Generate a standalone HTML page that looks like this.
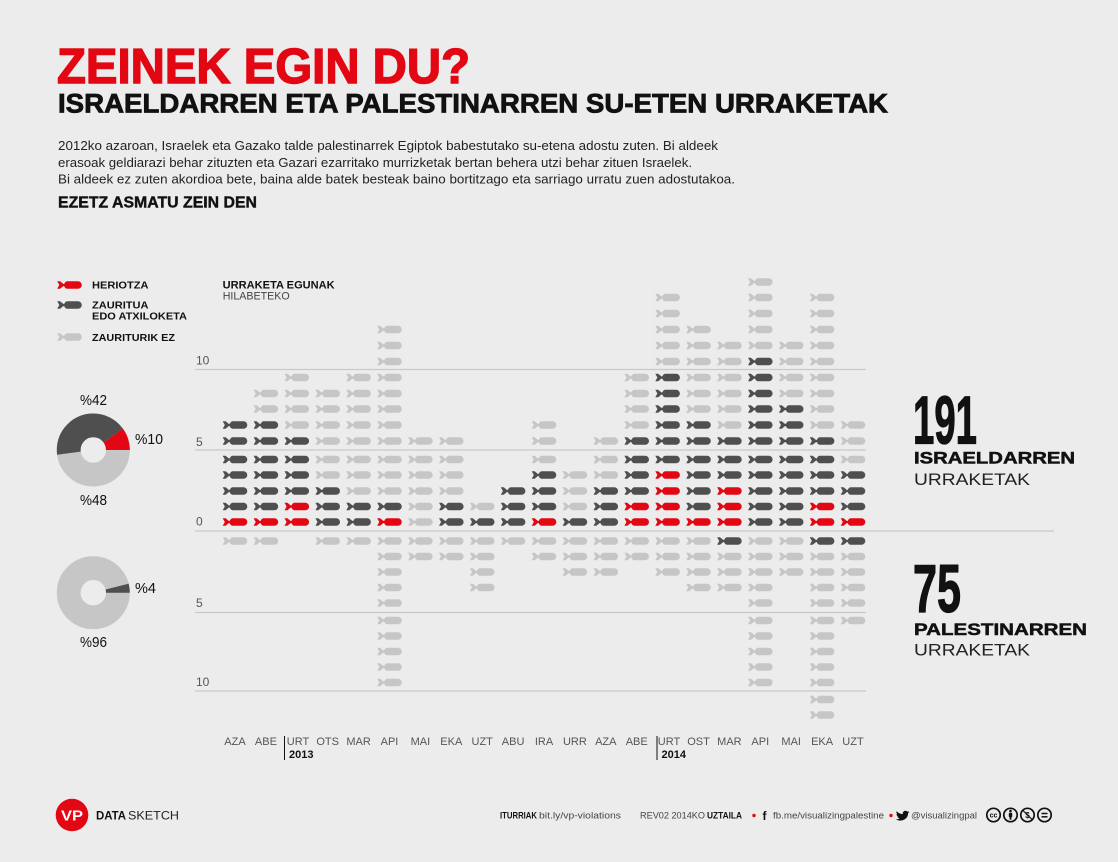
<!DOCTYPE html>
<html><head><meta charset="utf-8"><style>
html,body{margin:0;padding:0;background:#ececec;}
svg{display:block;font-family:"Liberation Sans",sans-serif;}
.r{fill:#e30613}.d{fill:#4f4f4f}.l{fill:#c6c6c6}
.m{font-size:11px;fill:#555;text-anchor:middle}
.ax{font-size:12px;fill:#555}
.g{stroke:#c9c9c9;stroke-width:1.3}
</style></head><body>
<svg width="1118" height="862" viewBox="0 0 1118 862" xmlns="http://www.w3.org/2000/svg">
<defs>
<path id="b" d="M-12.3 -3.8H-9.4L-6.2 -1.1H-5.2A3.8 3.8 0 0 1 -2.6 -3.8H8.5A3.8 3.8 0 0 1 8.5 3.8H-2.6A3.8 3.8 0 0 1 -5.2 1.1H-6.2L-9.4 3.8H-12.3L-10.2 0Z"/>
</defs>
<rect width="1118" height="862" fill="#ececec"/>

<!-- header -->
<text x="57" y="83" font-size="49" font-weight="bold" fill="#e30613" stroke="#e30613" stroke-width="1.4" textLength="413" lengthAdjust="spacingAndGlyphs">ZEINEK EGIN DU?</text>
<text x="58" y="112.5" font-size="27" font-weight="bold" fill="#111" stroke="#111" stroke-width="0.8" textLength="830" lengthAdjust="spacingAndGlyphs">ISRAELDARREN ETA PALESTINARREN SU-ETEN URRAKETAK</text>
<g font-size="13" fill="#222">
<text x="58" y="150" textLength="660" lengthAdjust="spacingAndGlyphs">2012ko azaroan, Israelek eta Gazako talde palestinarrek Egiptok babestutako su-etena adostu zuten. Bi aldeek</text>
<text x="58" y="167" textLength="634" lengthAdjust="spacingAndGlyphs">erasoak geldiarazi behar zituzten eta Gazari ezarritako murrizketak bertan behera utzi behar zituen Israelek.</text>
<text x="58" y="183.5" textLength="677" lengthAdjust="spacingAndGlyphs">Bi aldeek ez zuten akordioa bete, baina alde batek besteak baino bortitzago eta sarriago urratu zuen adostutakoa.</text>
</g>
<text x="58" y="207.5" font-size="15.5" font-weight="bold" fill="#111" stroke="#111" stroke-width="0.4" textLength="199" lengthAdjust="spacingAndGlyphs">EZETZ ASMATU ZEIN DEN</text>

<!-- legend -->
<use href="#b" x="69.5" y="285" class="r"/>
<use href="#b" x="69.5" y="305" class="d"/>
<use href="#b" x="69.5" y="337" class="l"/>
<g font-size="10.5" font-weight="bold" fill="#111">
<text x="92" y="288.5" textLength="56.5" lengthAdjust="spacingAndGlyphs">HERIOTZA</text>
<text x="92" y="308.3" textLength="56.5" lengthAdjust="spacingAndGlyphs">ZAURITUA</text>
<text x="92" y="319.5" textLength="95" lengthAdjust="spacingAndGlyphs">EDO ATXILOKETA</text>
<text x="92" y="340.8" textLength="83" lengthAdjust="spacingAndGlyphs">ZAURITURIK EZ</text>
</g>
<text x="222.7" y="288.3" font-size="11" font-weight="bold" fill="#111" textLength="112" lengthAdjust="spacingAndGlyphs">URRAKETA EGUNAK</text>
<text x="222.7" y="299.3" font-size="11" fill="#444" textLength="67" lengthAdjust="spacingAndGlyphs">HILABETEKO</text>

<!-- pies -->
<circle cx="93.3" cy="450" r="24.6" fill="none" stroke="#c6c6c6" stroke-width="23.8"/>
<g transform="translate(93.3 450) scale(1 -1)">
<circle r="24.6" fill="none" stroke="#e30613" stroke-width="23.8" stroke-dasharray="15.46 200"/>
<circle r="24.6" fill="none" stroke="#4f4f4f" stroke-width="23.8" stroke-dasharray="0 15.46 64.92 200"/>
</g>
<circle cx="93.3" cy="592.7" r="24.6" fill="none" stroke="#c6c6c6" stroke-width="23.8"/>
<g transform="translate(93.3 592.7) scale(1 -1)">
<circle r="24.6" fill="none" stroke="#4f4f4f" stroke-width="23.8" stroke-dasharray="6.18 200"/>
</g>
<g font-size="15" fill="#111">
<text x="80" y="405" textLength="27" lengthAdjust="spacingAndGlyphs">%42</text>
<text x="135" y="444" textLength="28" lengthAdjust="spacingAndGlyphs">%10</text>
<text x="80" y="505" textLength="27" lengthAdjust="spacingAndGlyphs">%48</text>
<text x="135" y="593" textLength="21" lengthAdjust="spacingAndGlyphs">%4</text>
<text x="80" y="647" textLength="27" lengthAdjust="spacingAndGlyphs">%96</text>
</g>

<!-- grid -->
<line class="g" x1="195" y1="369.5" x2="866" y2="369.5"/>
<line class="g" x1="195" y1="450" x2="866" y2="450"/>
<line class="g" x1="195" y1="531" x2="1054" y2="531"/>
<line class="g" x1="195" y1="612.5" x2="866" y2="612.5"/>
<line class="g" x1="195" y1="691" x2="866" y2="691"/>
<text class="ax" x="196" y="364.5">10</text>
<text class="ax" x="196" y="446">5</text>
<text class="ax" x="196" y="525.5">0</text>
<text class="ax" x="196" y="607">5</text>
<text class="ax" x="196" y="686">10</text>

<!-- columns -->
<g transform="translate(235 0)">
<use href="#b" y="522" class="r"/><use href="#b" y="506.5" class="d"/><use href="#b" y="491" class="d"/><use href="#b" y="475" class="d"/><use href="#b" y="459.5" class="d"/><use href="#b" y="441" class="d"/><use href="#b" y="425" class="d"/>
<use href="#b" y="541" class="l"/>
</g>
<g transform="translate(265.9 0)">
<use href="#b" y="522" class="r"/><use href="#b" y="506.5" class="d"/><use href="#b" y="491" class="d"/><use href="#b" y="475" class="d"/><use href="#b" y="459.5" class="d"/><use href="#b" y="441" class="d"/><use href="#b" y="425" class="d"/><use href="#b" y="409" class="l"/><use href="#b" y="393.5" class="l"/>
<use href="#b" y="541" class="l"/>
</g>
<g transform="translate(296.8 0)">
<use href="#b" y="522" class="r"/><use href="#b" y="506.5" class="r"/><use href="#b" y="491" class="d"/><use href="#b" y="475" class="d"/><use href="#b" y="459.5" class="d"/><use href="#b" y="441" class="d"/><use href="#b" y="425" class="l"/><use href="#b" y="409" class="l"/><use href="#b" y="393.5" class="l"/><use href="#b" y="377.5" class="l"/>
</g>
<g transform="translate(327.7 0)">
<use href="#b" y="522" class="d"/><use href="#b" y="506.5" class="d"/><use href="#b" y="491" class="d"/><use href="#b" y="475" class="l"/><use href="#b" y="459.5" class="l"/><use href="#b" y="441" class="l"/><use href="#b" y="425" class="l"/><use href="#b" y="409" class="l"/><use href="#b" y="393.5" class="l"/>
<use href="#b" y="541" class="l"/>
</g>
<g transform="translate(358.6 0)">
<use href="#b" y="522" class="d"/><use href="#b" y="506.5" class="d"/><use href="#b" y="491" class="l"/><use href="#b" y="475" class="l"/><use href="#b" y="459.5" class="l"/><use href="#b" y="441" class="l"/><use href="#b" y="425" class="l"/><use href="#b" y="409" class="l"/><use href="#b" y="393.5" class="l"/><use href="#b" y="377.5" class="l"/>
<use href="#b" y="541" class="l"/>
</g>
<g transform="translate(389.5 0)">
<use href="#b" y="522" class="r"/><use href="#b" y="506.5" class="d"/><use href="#b" y="491" class="l"/><use href="#b" y="475" class="l"/><use href="#b" y="459.5" class="l"/><use href="#b" y="441" class="l"/><use href="#b" y="425" class="l"/><use href="#b" y="409" class="l"/><use href="#b" y="393.5" class="l"/><use href="#b" y="377.5" class="l"/><use href="#b" y="361.5" class="l"/><use href="#b" y="345.5" class="l"/><use href="#b" y="329.5" class="l"/>
<use href="#b" y="541" class="l"/><use href="#b" y="556.5" class="l"/><use href="#b" y="572" class="l"/><use href="#b" y="587.5" class="l"/><use href="#b" y="603" class="l"/><use href="#b" y="620.5" class="l"/><use href="#b" y="636" class="l"/><use href="#b" y="651.5" class="l"/><use href="#b" y="667" class="l"/><use href="#b" y="682.5" class="l"/>
</g>
<g transform="translate(420.4 0)">
<use href="#b" y="522" class="l"/><use href="#b" y="506.5" class="l"/><use href="#b" y="491" class="l"/><use href="#b" y="475" class="l"/><use href="#b" y="459.5" class="l"/><use href="#b" y="441" class="l"/>
<use href="#b" y="541" class="l"/><use href="#b" y="556.5" class="l"/>
</g>
<g transform="translate(451.3 0)">
<use href="#b" y="522" class="d"/><use href="#b" y="506.5" class="d"/><use href="#b" y="491" class="l"/><use href="#b" y="475" class="l"/><use href="#b" y="459.5" class="l"/><use href="#b" y="441" class="l"/>
<use href="#b" y="541" class="l"/><use href="#b" y="556.5" class="l"/>
</g>
<g transform="translate(482.2 0)">
<use href="#b" y="522" class="d"/><use href="#b" y="506.5" class="l"/>
<use href="#b" y="541" class="l"/><use href="#b" y="556.5" class="l"/><use href="#b" y="572" class="l"/><use href="#b" y="587.5" class="l"/>
</g>
<g transform="translate(513.1 0)">
<use href="#b" y="522" class="d"/><use href="#b" y="506.5" class="d"/><use href="#b" y="491" class="d"/>
<use href="#b" y="541" class="l"/>
</g>
<g transform="translate(544 0)">
<use href="#b" y="522" class="r"/><use href="#b" y="506.5" class="d"/><use href="#b" y="491" class="d"/><use href="#b" y="475" class="d"/><use href="#b" y="459.5" class="l"/><use href="#b" y="441" class="l"/><use href="#b" y="425" class="l"/>
<use href="#b" y="541" class="l"/><use href="#b" y="556.5" class="l"/>
</g>
<g transform="translate(574.9 0)">
<use href="#b" y="522" class="d"/><use href="#b" y="506.5" class="l"/><use href="#b" y="491" class="l"/><use href="#b" y="475" class="l"/>
<use href="#b" y="541" class="l"/><use href="#b" y="556.5" class="l"/><use href="#b" y="572" class="l"/>
</g>
<g transform="translate(605.8 0)">
<use href="#b" y="522" class="d"/><use href="#b" y="506.5" class="d"/><use href="#b" y="491" class="d"/><use href="#b" y="475" class="l"/><use href="#b" y="459.5" class="l"/><use href="#b" y="441" class="l"/>
<use href="#b" y="541" class="l"/><use href="#b" y="556.5" class="l"/><use href="#b" y="572" class="l"/>
</g>
<g transform="translate(636.7 0)">
<use href="#b" y="522" class="r"/><use href="#b" y="506.5" class="r"/><use href="#b" y="491" class="d"/><use href="#b" y="475" class="d"/><use href="#b" y="459.5" class="d"/><use href="#b" y="441" class="d"/><use href="#b" y="425" class="l"/><use href="#b" y="409" class="l"/><use href="#b" y="393.5" class="l"/><use href="#b" y="377.5" class="l"/>
<use href="#b" y="541" class="l"/><use href="#b" y="556.5" class="l"/>
</g>
<g transform="translate(667.6 0)">
<use href="#b" y="522" class="r"/><use href="#b" y="506.5" class="r"/><use href="#b" y="491" class="r"/><use href="#b" y="475" class="r"/><use href="#b" y="459.5" class="d"/><use href="#b" y="441" class="d"/><use href="#b" y="425" class="d"/><use href="#b" y="409" class="d"/><use href="#b" y="393.5" class="d"/><use href="#b" y="377.5" class="d"/><use href="#b" y="361.5" class="l"/><use href="#b" y="345.5" class="l"/><use href="#b" y="329.5" class="l"/><use href="#b" y="313.5" class="l"/><use href="#b" y="297.5" class="l"/>
<use href="#b" y="541" class="l"/><use href="#b" y="556.5" class="l"/><use href="#b" y="572" class="l"/>
</g>
<g transform="translate(698.5 0)">
<use href="#b" y="522" class="r"/><use href="#b" y="506.5" class="d"/><use href="#b" y="491" class="d"/><use href="#b" y="475" class="d"/><use href="#b" y="459.5" class="d"/><use href="#b" y="441" class="d"/><use href="#b" y="425" class="d"/><use href="#b" y="409" class="l"/><use href="#b" y="393.5" class="l"/><use href="#b" y="377.5" class="l"/><use href="#b" y="361.5" class="l"/><use href="#b" y="345.5" class="l"/><use href="#b" y="329.5" class="l"/>
<use href="#b" y="541" class="l"/><use href="#b" y="556.5" class="l"/><use href="#b" y="572" class="l"/><use href="#b" y="587.5" class="l"/>
</g>
<g transform="translate(729.4 0)">
<use href="#b" y="522" class="r"/><use href="#b" y="506.5" class="r"/><use href="#b" y="491" class="r"/><use href="#b" y="475" class="d"/><use href="#b" y="459.5" class="d"/><use href="#b" y="441" class="d"/><use href="#b" y="425" class="l"/><use href="#b" y="409" class="l"/><use href="#b" y="393.5" class="l"/><use href="#b" y="377.5" class="l"/><use href="#b" y="361.5" class="l"/><use href="#b" y="345.5" class="l"/>
<use href="#b" y="541" class="d"/><use href="#b" y="556.5" class="l"/><use href="#b" y="572" class="l"/><use href="#b" y="587.5" class="l"/>
</g>
<g transform="translate(760.3 0)">
<use href="#b" y="522" class="d"/><use href="#b" y="506.5" class="d"/><use href="#b" y="491" class="d"/><use href="#b" y="475" class="d"/><use href="#b" y="459.5" class="d"/><use href="#b" y="441" class="d"/><use href="#b" y="425" class="d"/><use href="#b" y="409" class="d"/><use href="#b" y="393.5" class="d"/><use href="#b" y="377.5" class="d"/><use href="#b" y="361.5" class="d"/><use href="#b" y="345.5" class="l"/><use href="#b" y="329.5" class="l"/><use href="#b" y="313.5" class="l"/><use href="#b" y="297.5" class="l"/><use href="#b" y="282" class="l"/>
<use href="#b" y="541" class="l"/><use href="#b" y="556.5" class="l"/><use href="#b" y="572" class="l"/><use href="#b" y="587.5" class="l"/><use href="#b" y="603" class="l"/><use href="#b" y="620.5" class="l"/><use href="#b" y="636" class="l"/><use href="#b" y="651.5" class="l"/><use href="#b" y="667" class="l"/><use href="#b" y="682.5" class="l"/>
</g>
<g transform="translate(791.2 0)">
<use href="#b" y="522" class="d"/><use href="#b" y="506.5" class="d"/><use href="#b" y="491" class="d"/><use href="#b" y="475" class="d"/><use href="#b" y="459.5" class="d"/><use href="#b" y="441" class="d"/><use href="#b" y="425" class="d"/><use href="#b" y="409" class="d"/><use href="#b" y="393.5" class="l"/><use href="#b" y="377.5" class="l"/><use href="#b" y="361.5" class="l"/><use href="#b" y="345.5" class="l"/>
<use href="#b" y="541" class="l"/><use href="#b" y="556.5" class="l"/><use href="#b" y="572" class="l"/>
</g>
<g transform="translate(822.1 0)">
<use href="#b" y="522" class="r"/><use href="#b" y="506.5" class="r"/><use href="#b" y="491" class="d"/><use href="#b" y="475" class="d"/><use href="#b" y="459.5" class="d"/><use href="#b" y="441" class="d"/><use href="#b" y="425" class="l"/><use href="#b" y="409" class="l"/><use href="#b" y="393.5" class="l"/><use href="#b" y="377.5" class="l"/><use href="#b" y="361.5" class="l"/><use href="#b" y="345.5" class="l"/><use href="#b" y="329.5" class="l"/><use href="#b" y="313.5" class="l"/><use href="#b" y="297.5" class="l"/>
<use href="#b" y="541" class="d"/><use href="#b" y="556.5" class="l"/><use href="#b" y="572" class="l"/><use href="#b" y="587.5" class="l"/><use href="#b" y="603" class="l"/><use href="#b" y="620.5" class="l"/><use href="#b" y="636" class="l"/><use href="#b" y="651.5" class="l"/><use href="#b" y="667" class="l"/><use href="#b" y="682.5" class="l"/><use href="#b" y="699.5" class="l"/><use href="#b" y="715" class="l"/>
</g>
<g transform="translate(853 0)">
<use href="#b" y="522" class="r"/><use href="#b" y="506.5" class="d"/><use href="#b" y="491" class="d"/><use href="#b" y="475" class="d"/><use href="#b" y="459.5" class="l"/><use href="#b" y="441" class="l"/><use href="#b" y="425" class="l"/>
<use href="#b" y="541" class="d"/><use href="#b" y="556.5" class="l"/><use href="#b" y="572" class="l"/><use href="#b" y="587.5" class="l"/><use href="#b" y="603" class="l"/><use href="#b" y="620.5" class="l"/>
</g>

<!-- month labels -->
<text class="m" x="235" y="745">AZA</text>
<text class="m" x="265.9" y="745">ABE</text>
<text class="m" x="298" y="745">URT</text>
<text class="m" x="327.7" y="745">OTS</text>
<text class="m" x="358.6" y="745">MAR</text>
<text class="m" x="389.5" y="745">API</text>
<text class="m" x="420.4" y="745">MAI</text>
<text class="m" x="451.3" y="745">EKA</text>
<text class="m" x="482.2" y="745">UZT</text>
<text class="m" x="513.1" y="745">ABU</text>
<text class="m" x="544" y="745">IRA</text>
<text class="m" x="574.9" y="745">URR</text>
<text class="m" x="605.8" y="745">AZA</text>
<text class="m" x="636.7" y="745">ABE</text>
<text class="m" x="669" y="745">URT</text>
<text class="m" x="698.5" y="745">OST</text>
<text class="m" x="729.4" y="745">MAR</text>
<text class="m" x="760.3" y="745">API</text>
<text class="m" x="791.2" y="745">MAI</text>
<text class="m" x="822.1" y="745">EKA</text>
<text class="m" x="853" y="745">UZT</text>
<line x1="284.5" y1="736" x2="284.5" y2="760" stroke="#111" stroke-width="1"/>
<line x1="657" y1="736" x2="657" y2="760" stroke="#111" stroke-width="1"/>
<text x="289" y="758" font-size="11" font-weight="bold" fill="#111">2013</text>
<text x="661.5" y="758" font-size="11" font-weight="bold" fill="#111">2014</text>

<!-- totals -->
<text x="913" y="443.5" font-size="68" font-weight="bold" fill="#111" stroke="#111" stroke-width="1.2" textLength="64" lengthAdjust="spacingAndGlyphs">191</text>
<text x="914" y="463.5" font-size="16.5" font-weight="bold" fill="#111" stroke="#111" stroke-width="0.5" textLength="161" lengthAdjust="spacingAndGlyphs">ISRAELDARREN</text>
<text x="914" y="485" font-size="16.5" fill="#222" textLength="116" lengthAdjust="spacingAndGlyphs">URRAKETAK</text>
<text x="913" y="612" font-size="68" font-weight="bold" fill="#111" stroke="#111" stroke-width="1.2" textLength="48" lengthAdjust="spacingAndGlyphs">75</text>
<text x="914" y="635" font-size="16.5" font-weight="bold" fill="#111" stroke="#111" stroke-width="0.5" textLength="173" lengthAdjust="spacingAndGlyphs">PALESTINARREN</text>
<text x="914" y="655.5" font-size="16.5" fill="#222" textLength="116" lengthAdjust="spacingAndGlyphs">URRAKETAK</text>

<!-- footer -->
<circle cx="72" cy="815" r="16.3" fill="#e30613"/>
<text x="72" y="820.5" font-size="15" font-weight="bold" fill="#fff" text-anchor="middle" textLength="22" lengthAdjust="spacingAndGlyphs">VP</text>
<text x="96" y="819.5" font-size="12" font-weight="bold" fill="#111" textLength="30" lengthAdjust="spacingAndGlyphs">DATA</text>
<text x="128" y="819.5" font-size="12" fill="#222" textLength="51" lengthAdjust="spacingAndGlyphs">SKETCH</text>
<g font-size="9" fill="#444">
<text x="500" y="818.5" font-weight="bold" fill="#111" textLength="37" lengthAdjust="spacingAndGlyphs">ITURRIAK</text>
<text x="539" y="818.5" textLength="82" lengthAdjust="spacingAndGlyphs">bit.ly/vp-violations</text>
<text x="640" y="818.5" textLength="65" lengthAdjust="spacingAndGlyphs">REV02  2014KO</text>
<text x="707" y="818.5" font-weight="bold" fill="#111" textLength="35" lengthAdjust="spacingAndGlyphs">UZTAILA</text>
<text x="773" y="818.5" textLength="111" lengthAdjust="spacingAndGlyphs">fb.me/visualizingpalestine</text>
<text x="911" y="818.5" textLength="66" lengthAdjust="spacingAndGlyphs">@visualizingpal</text>
</g>
<circle cx="754" cy="815.5" r="1.7" fill="#e30613"/>
<circle cx="891" cy="815.5" r="1.7" fill="#e30613"/>
<text x="762.5" y="820" font-size="12" font-weight="bold" fill="#111">f</text>
<path d="M898 812.5c1.5 1 3 1.6 4.8 1.6-.4-1.8 1-3.3 2.6-3.3.8 0 1.4.3 1.9.8.6-.1 1.2-.4 1.7-.6-.2.6-.6 1.1-1.1 1.4.5-.1 1-.2 1.5-.4-.4.5-.8 1-1.3 1.300 0 4-3.2 7.3-7.9 7.3-1.6 0-3.1-.5-4.3-1.2 1.4.1 2.7-.3 3.8-1.1-1.1 0-2.1-.8-2.4-1.800.4.1.8 0 1.100 0-1.2-.3-2-1.3-2-2.500.3.2.7.3 1.100.3-1-.7-1.400-2.200-.900-3.200z" fill="#111"/>
<g fill="none" stroke="#111" stroke-width="1.7">
<circle cx="993.5" cy="815" r="6.7"/>
<circle cx="1010.5" cy="815" r="6.7"/>
<circle cx="1027.5" cy="815" r="6.7"/>
<circle cx="1044.5" cy="815" r="6.7"/>
<line x1="1022.5" y1="810" x2="1032.5" y2="820" stroke-width="1.2"/>
<line x1="1041.5" y1="813.5" x2="1047.5" y2="813.5" stroke-width="1.5"/>
<line x1="1041.5" y1="816.8" x2="1047.5" y2="816.8" stroke-width="1.5"/>
</g>
<text x="993.5" y="817.5" font-size="7" font-weight="bold" fill="#111" text-anchor="middle">cc</text>
<circle cx="1010.5" cy="811" r="1.3" fill="#111"/>
<rect x="1008.8" y="812.8" width="3.4" height="4.5" rx="0.8" fill="#111"/>
<rect x="1009.6" y="816.5" width="1.8" height="3.2" fill="#111"/>
<text x="1027.5" y="818" font-size="8" font-weight="bold" fill="#111" text-anchor="middle">$</text>
</svg>
</body></html>
